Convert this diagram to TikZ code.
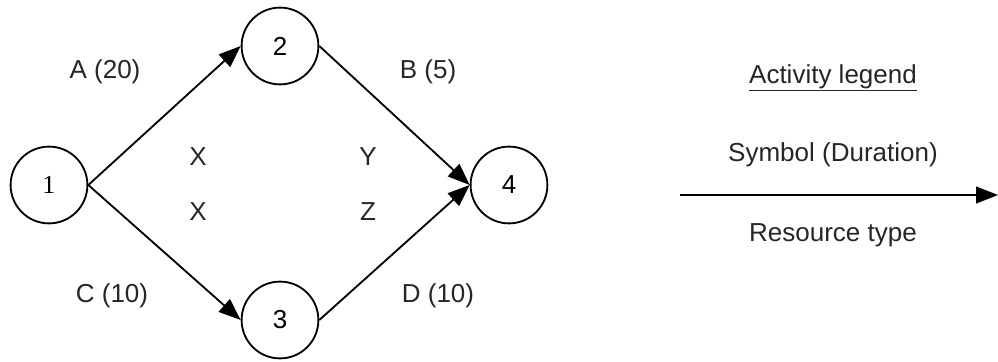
\documentclass[tikz,border=0pt]{standalone}
\usepackage{fontspec}
\setmainfont{Liberation Sans}
\newfontfamily\numserif{Liberation Serif}
\usetikzlibrary{arrows.meta,positioning}
\begin{document}
\begin{tikzpicture}[node distance=2cm,
  font=\fontsize{18.5}{22}\selectfont,
  event/.style={circle, draw, line width=1.3pt, minimum size=1.92cm, inner sep=0pt},
  activity/.style={line width=1.3pt, -{Triangle[length=0.55cm,width=0.42cm]}},
  lbl/.style={inner sep=0pt, text=black!85}]
\useasboundingbox (0,0) rectangle (24.95,9.025);

\node (n1) [event] at (1.225,4.4) {\numserif 1};
\node (n2) [event] at (7.0,7.875) {2};
\node (n3) [event] at (7.0,1.025) {3};
\node (n4) [event] at (12.725,4.4) {4};

\draw[activity] (n1.east) -- (n2.west);
\draw[activity] (n1.east) -- (n3.west);
\draw[activity] (n2.east) -- (n4.west);
\draw[activity] (n3.east) -- (n4.west);

\node (lblA) [lbl] at (2.625,7.225) {A (20)};
\node (lblB) [lbl] at (10.7,7.225) {B (5)};
\node (lblC) [lbl] at (2.8,1.625) {C (10)};
\node (lblD) [lbl] at (10.95,1.625) {D (10)};

\node (resA) [lbl] at (4.95,5.1) {X};
\node (resC) [lbl] at (4.95,3.725) {X};
\node (resB) [lbl] at (9.2,5.1) {Y};
\node (resD) [lbl] at (9.2,3.725) {Z};

% legend
\coordinate (legstart) at (17.0,4.15);
\coordinate (legend) at (24.95,4.15);
\draw[activity] (legstart) -- (legend);
\node (legsym) [lbl] at (20.825,5.15) {Symbol (Duration)};
\node (legres) [lbl, below of=legsym] {Resource type};
\node (legtitle) [lbl, above of=legsym, yshift=-0.075cm] {\underline{Activity legend}};

\end{tikzpicture}
\end{document}
